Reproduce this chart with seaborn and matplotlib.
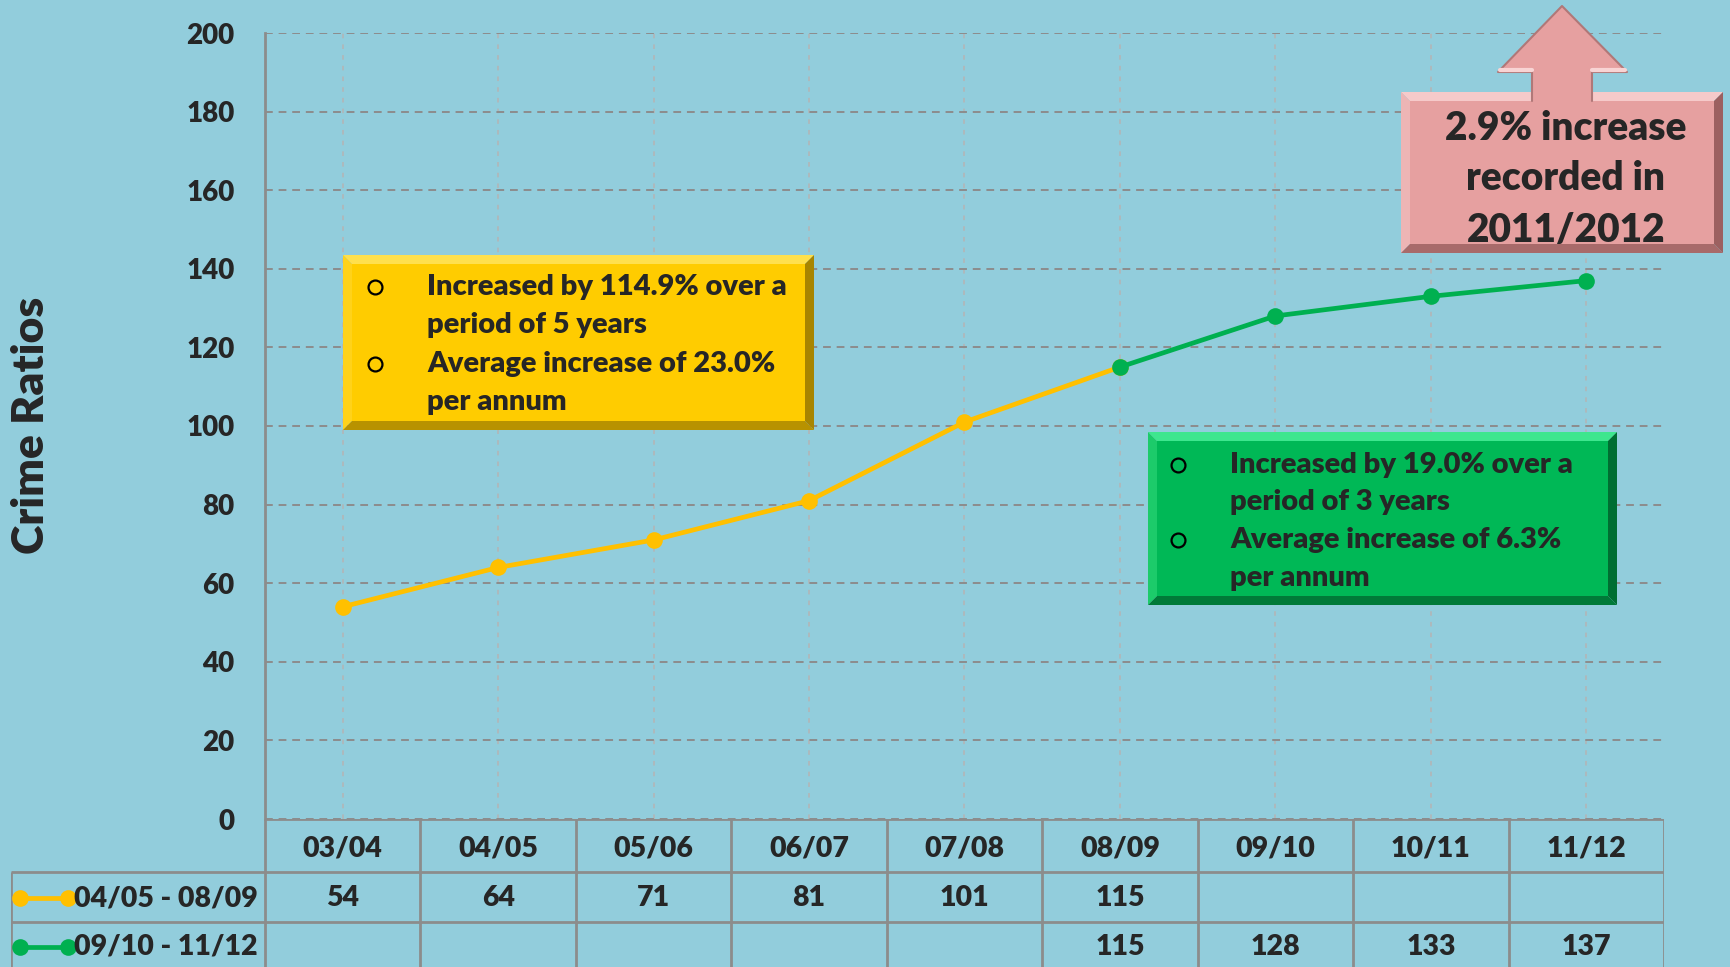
import matplotlib
matplotlib.use("Agg")
import matplotlib.pyplot as plt
from matplotlib.patches import Polygon
import numpy as np
import pandas as pd
import seaborn as sns

# ---- data ----
seasons = ["03/04", "04/05", "05/06", "06/07", "07/08", "08/09", "09/10", "10/11", "11/12"]
series_a_name = "04/05 - 08/09"
series_a_seasons = ["03/04", "04/05", "05/06", "06/07", "07/08", "08/09"]
series_a_values = [54, 64, 71, 81, 101, 115]
series_b_name = "09/10 - 11/12"
series_b_seasons = ["08/09", "09/10", "10/11", "11/12"]
series_b_values = [115, 128, 133, 137]
y_ticks = [0, 20, 40, 60, 80, 100, 120, 140, 160, 180, 200]

yellow_notes = ["Increased by 114.9% over a", "period of 5 years",
                "Average increase of 23.0%", "per annum"]
green_notes = ["Increased by 19.0% over a", "period of 3 years",
               "Average increase of 6.3%", "per annum"]
callout_lines = ["2.9% increase", "recorded in", "2011/2012"]

# ---- style ----
BG = "#92CDDC"
YELLOW = "#FFC000"
GREEN = "#00B050"
GRID = "#8C8C8C"
WEIGHT = "heavy"

sns.set_style("white")
plt.rcParams["font.family"] = ["Lato", "DejaVu Sans"]
plt.rcParams["font.weight"] = WEIGHT

W, H = 1731, 967
fig = plt.figure(figsize=(W / 100, H / 100), dpi=100, facecolor=BG)

# plot area in pixels
PL, PR, PT, PB = 265, 1664, 33, 819
ax = fig.add_axes([PL / W, 1 - PB / H, (PR - PL) / W, (PB - PT) / H])
ax.set_facecolor(BG)

pos = {s: i for i, s in enumerate(seasons)}
df = pd.concat([
    pd.DataFrame({"x": [pos[s] for s in series_a_seasons], "value": series_a_values,
                  "series": series_a_name}),
    pd.DataFrame({"x": [pos[s] for s in series_b_seasons], "value": series_b_values,
                  "series": series_b_name}),
])
sns.lineplot(data=df, x="x", y="value", hue="series",
             palette={series_a_name: YELLOW, series_b_name: GREEN},
             marker="o", markersize=12, markeredgewidth=0, linewidth=3.4,
             legend=False, ax=ax, zorder=4)

ax.set_xlim(-0.5, len(seasons) - 0.5)
ax.set_ylim(0, 200)
ax.set_yticks(y_ticks)
ax.set_xticks(range(len(seasons)))
ax.set_xticklabels([])
ax.set_xlabel("")
ax.set_ylabel("")
ax.tick_params(axis="both", length=0)
ax.tick_params(axis="y", pad=22, labelsize=20)
for lab in ax.get_yticklabels():
    lab.set_fontweight(WEIGHT)
ax.yaxis.grid(True, linestyle=(0, (4, 3)), color=GRID, linewidth=1.4)
ax.xaxis.grid(True, linestyle=(0, (3, 4)), color="#B4B4B4", linewidth=1.1)
for side in ["top", "right", "bottom"]:
    ax.spines[side].set_visible(False)
ax.spines["left"].set_color(GRID)
ax.spines["left"].set_linewidth(2)

fig.text(31 / W, 1 - 425 / H, "Crime Ratios", rotation=90, ha="center", va="center",
         fontsize=32, fontweight=WEIGHT)

# ---- data table below the plot ----
unit = (PR - PL) / len(seasons)
TL = 11
tax = fig.add_axes([TL / W, 0, (PR - TL) / W, (H - PB) / H])
x_left = -0.5 - (PL - TL) / unit
tax.set_xlim(x_left, len(seasons) - 0.5)
tax.set_ylim(H - PB, 0)
tax.axis("off")
tax.patch.set_alpha(0)

r1, r2 = 872 - PB, 922 - PB
lw = 2
tax.hlines(0, -0.5, len(seasons) - 0.5, color=GRID, lw=lw)
tax.hlines([r1, r2], x_left, len(seasons) - 0.5, color=GRID, lw=lw)
tax.vlines(x_left, r1, H - PB, color=GRID, lw=lw)
tax.vlines(np.arange(-0.5, len(seasons)), 0, H - PB, color=GRID, lw=lw)

TFS = 20.5
ROW_Y = (29, 79, 128)
for i, s in enumerate(seasons):
    tax.text(i, ROW_Y[0], s, ha="center", va="center", fontsize=TFS, fontweight=WEIGHT)
for s, v in zip(series_a_seasons, series_a_values):
    tax.text(pos[s], ROW_Y[1], str(v), ha="center", va="center", fontsize=TFS,
             fontweight=WEIGHT)
for s, v in zip(series_b_seasons, series_b_values):
    tax.text(pos[s], ROW_Y[2], str(v), ha="center", va="center", fontsize=TFS,
             fontweight=WEIGHT)

key_x0 = -0.5 - (PL - 20) / unit
key_x1 = -0.5 - (PL - 68) / unit
for yrow, col, name in [(ROW_Y[1], YELLOW, series_a_name), (ROW_Y[2], GREEN, series_b_name)]:
    tax.plot([key_x0, key_x1], [yrow, yrow], color=col, lw=3.4, marker="o",
             markersize=12, markeredgewidth=0, clip_on=False)
    tax.text(-0.5 - (PL - 258) / unit, yrow, name, ha="right", va="center",
             fontsize=TFS, fontweight=WEIGHT)

# ---- annotation boxes (pixel overlay) ----
oax = fig.add_axes([0, 0, 1, 1], zorder=5)
oax.set_xlim(0, W)
oax.set_ylim(H, 0)
oax.axis("off")
oax.patch.set_alpha(0)


def bevel_box(x0, y0, x1, y1, face, top, left, bottom, right, d=9):
    ti = (x0 + d, y0 + d)
    tr = (x1 - d, y0 + d)
    br = (x1 - d, y1 - d)
    bl = (x0 + d, y1 - d)
    parts = [
        ([(x0, y0), (x1, y0), tr, ti], top),
        ([(x0, y0), ti, bl, (x0, y1)], left),
        ([(x0, y1), bl, br, (x1, y1)], bottom),
        ([(x1, y0), (x1, y1), br, tr], right),
        ([ti, tr, br, bl], face),
    ]
    for pts, c in parts:
        oax.add_patch(Polygon(pts, closed=True, facecolor=c, edgecolor="none"))


def note_box(x0, y0, x1, y1, colors, lines, bullet_x, text_x, line_ys):
    bevel_box(x0, y0, x1, y1, *colors)
    for k, (txt, ly) in enumerate(zip(lines, line_ys)):
        oax.text(text_x, ly, txt, ha="left", va="center", fontsize=21, fontweight=WEIGHT)
        if k % 2 == 0:
            oax.plot(bullet_x, ly, marker="o", markersize=10, markerfacecolor="none",
                     markeredgecolor="black", markeredgewidth=1.6)


note_box(343, 255, 814, 430,
         ("#FFCC00", "#FFE04D", "#FFD21A", "#B89200", "#A88500"),
         yellow_notes, 375, 427, [287, 325, 364, 402])
note_box(1148, 432, 1617, 605,
         ("#00B856", "#3EE68E", "#1CCB6A", "#007A38", "#006E32"),
         green_notes, 1178, 1230, [465, 502, 540, 578])

# pink callout with upward arrow
PINK = "#E6A0A0"
bevel_box(1401, 92, 1723, 253, PINK, "#F6CACA", "#EDB5B5", "#A86A6A", "#9C6060")
arrow = [(1532, 101), (1532, 72), (1498, 72), (1562, 6), (1627, 72), (1592, 72), (1592, 101)]
oax.add_patch(Polygon(arrow, closed=True, facecolor=PINK, edgecolor="none"))
ax_pts = np.array(arrow)
oax.plot(ax_pts[:, 0], ax_pts[:, 1], color="#B07878", lw=1.5)
oax.plot([1500, 1532], [70, 70], color="#F8D4D4", lw=3)
oax.plot([1592, 1625], [70, 70], color="#F8D4D4", lw=3)
for txt, ly in zip(callout_lines, [128, 179, 230]):
    oax.text(1566, ly, txt, ha="center", va="center", fontsize=28, fontweight=WEIGHT)

fig.savefig("out.png", dpi=100, facecolor=BG)
